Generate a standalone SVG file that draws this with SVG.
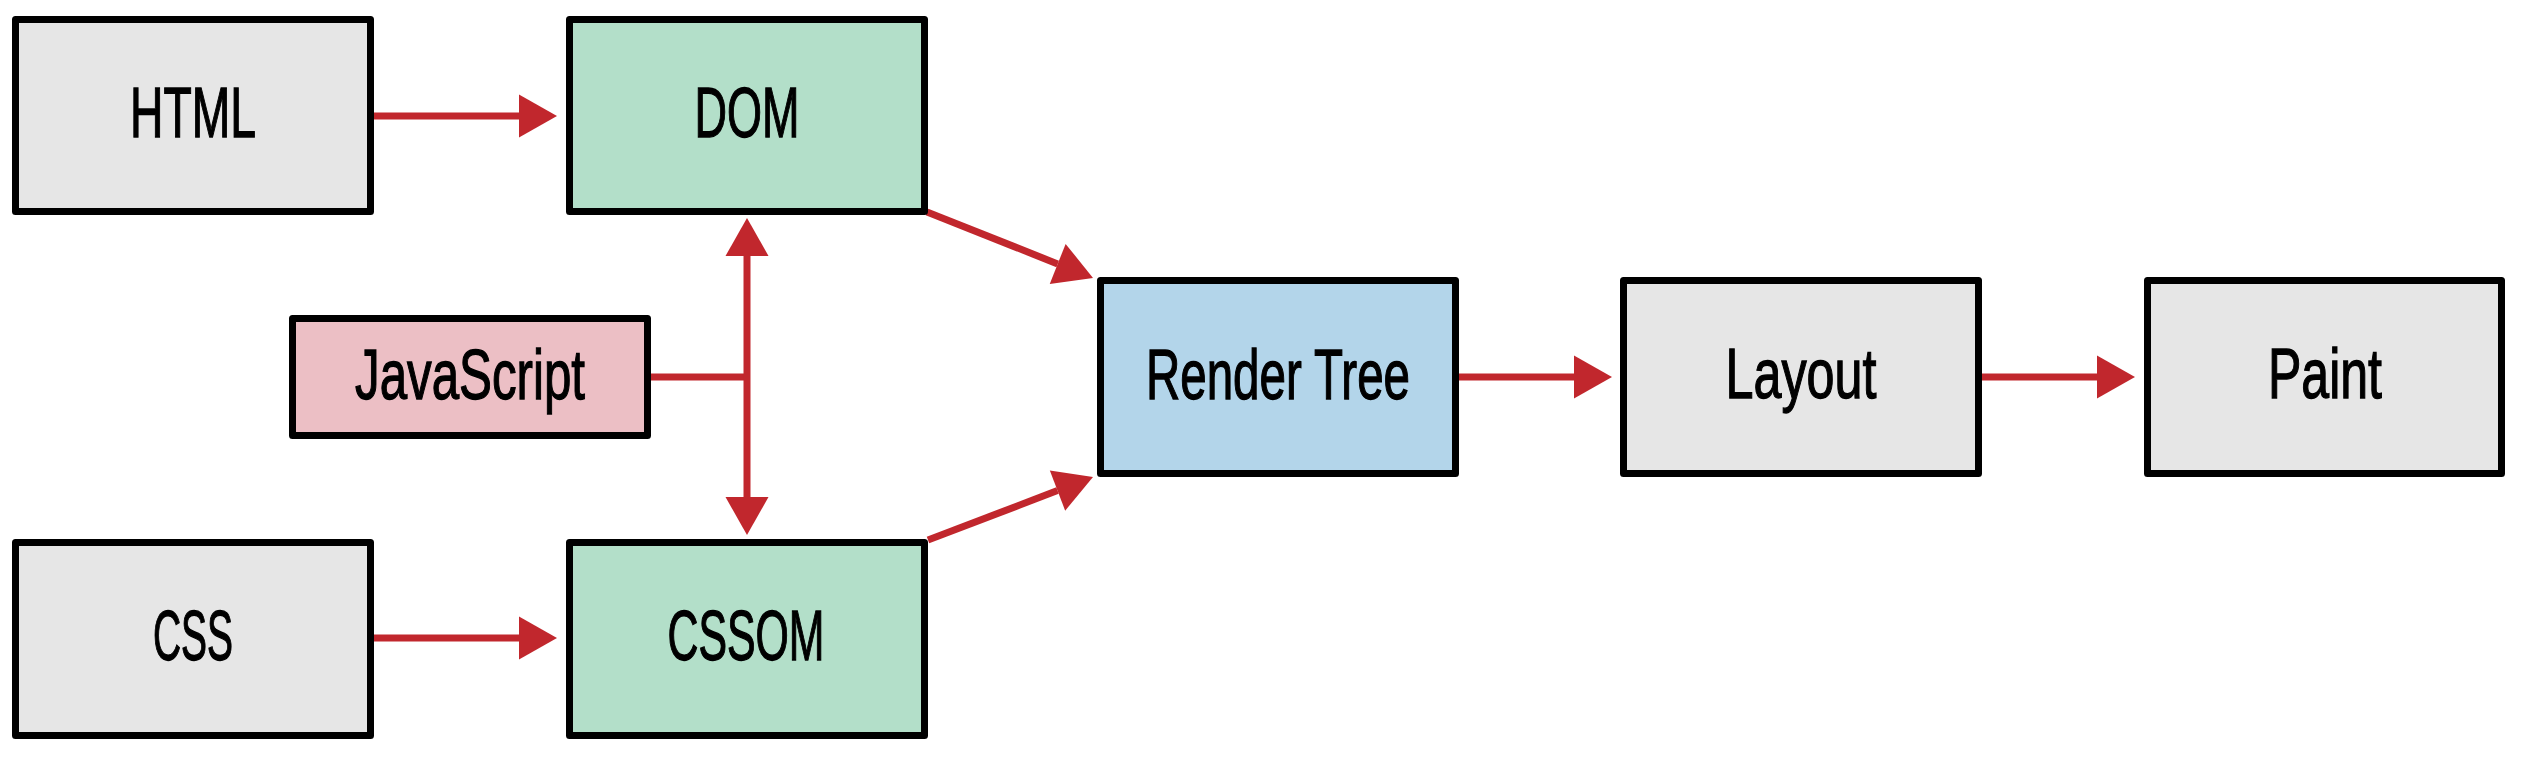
<svg xmlns="http://www.w3.org/2000/svg" width="2524" height="760" viewBox="0 0 2524 760">
<style>
.box{stroke:#000;stroke-width:7;stroke-linejoin:round}
.gray{fill:#e6e6e6}
.green{fill:#b3dfc9}
.blue{fill:#b3d5ea}
.pink{fill:#ecbfc5}
.lbl{font-family:"Liberation Sans",Arial,sans-serif;font-size:70px;fill:#000;stroke:#000;stroke-width:1.3;text-anchor:middle}
.conn{stroke:#c1272d;stroke-width:7;fill:none}
</style>
<defs>
<marker id="arr" markerUnits="userSpaceOnUse" markerWidth="40" markerHeight="44" refX="0" refY="21.5" orient="auto" overflow="visible">
<path d="M0,0 L38,21.5 L0,43 z" fill="#c1272d"/>
</marker>
</defs>
<rect width="2524" height="760" fill="#fff"/>
<g id="connectors">
<line class="conn" x1="374" y1="116" x2="519" y2="116" marker-end="url(#arr)"/>
<line class="conn" x1="374" y1="638" x2="519" y2="638" marker-end="url(#arr)"/>
<line class="conn" x1="1459" y1="377" x2="1574" y2="377" marker-end="url(#arr)"/>
<line class="conn" x1="1982" y1="377" x2="2097" y2="377" marker-end="url(#arr)"/>
<line class="conn" x1="651" y1="377" x2="747" y2="377"/>
<line class="conn" x1="747" y1="377" x2="747" y2="256" marker-end="url(#arr)"/>
<line class="conn" x1="747" y1="377" x2="747" y2="497" marker-end="url(#arr)"/>
<line class="conn" x1="927" y1="212" x2="1057.7" y2="263.9" marker-end="url(#arr)"/>
<line class="conn" x1="928" y1="540" x2="1057.5" y2="490.6" marker-end="url(#arr)"/>
</g>
<g id="html"><rect class="box gray" x="15.5" y="19.5" width="355" height="192"/><text class="lbl" x="193" y="137" textLength="126" lengthAdjust="spacingAndGlyphs">HTML</text></g>
<g id="dom"><rect class="box green" x="569.5" y="19.5" width="355" height="192"/><text class="lbl" x="747" y="137" textLength="105" lengthAdjust="spacingAndGlyphs">DOM</text></g>
<g id="javascript"><rect class="box pink" x="292.5" y="318.5" width="355" height="117"/><text class="lbl" x="470" y="399" textLength="230" lengthAdjust="spacingAndGlyphs">JavaScript</text></g>
<g id="css"><rect class="box gray" x="15.5" y="542.5" width="355" height="193"/><text class="lbl" x="193" y="660" textLength="80" lengthAdjust="spacingAndGlyphs">CSS</text></g>
<g id="cssom"><rect class="box green" x="569.5" y="542.5" width="355" height="193"/><text class="lbl" x="746" y="660" textLength="157" lengthAdjust="spacingAndGlyphs">CSSOM</text></g>
<g id="render-tree"><rect class="box blue" x="1100.5" y="280.5" width="355" height="193"/><text class="lbl" x="1278" y="399" textLength="264" lengthAdjust="spacingAndGlyphs">Render Tree</text></g>
<g id="layout"><rect class="box gray" x="1623.5" y="280.5" width="355" height="193"/><text class="lbl" x="1801" y="398" textLength="151" lengthAdjust="spacingAndGlyphs">Layout</text></g>
<g id="paint"><rect class="box gray" x="2147.5" y="280.5" width="354" height="193"/><text class="lbl" x="2325" y="398" textLength="114" lengthAdjust="spacingAndGlyphs">Paint</text></g>
</svg>
